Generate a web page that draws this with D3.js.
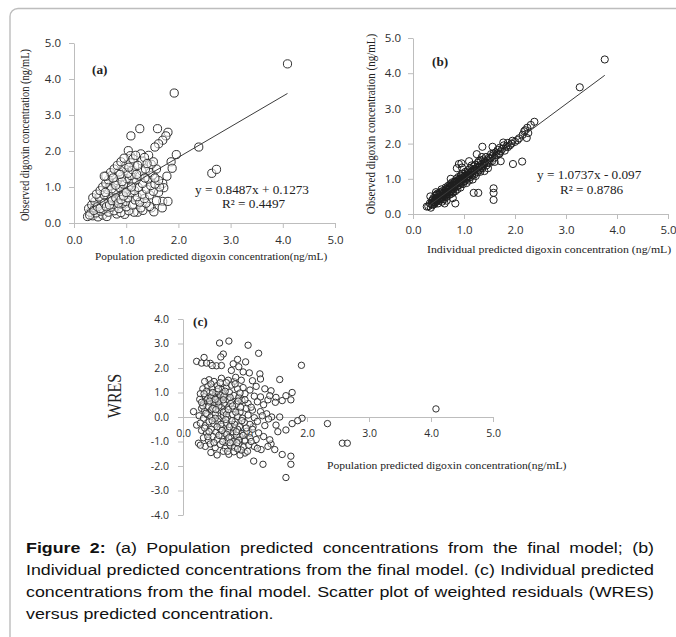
<!DOCTYPE html>
<html>
<head>
<meta charset="utf-8">
<script src="https://cdn.jsdelivr.net/npm/d3@7"></script>
<style>
    html, body { margin: 0; padding: 0; background: #fff; }
    svg { display: block; }
    .axis text { font-family: "Open Sans", sans-serif; fill: #2e2e2e; }
    .serif { font-family: "Liberation Serif", "DejaVu Serif", serif; fill: #222; white-space: pre; }
    .caption { font-family: "Liberation Sans", Arial, sans-serif; font-size: 15.5px; fill: #111; }
</style>
</head>
<body>
<div id="figure"></div>
<script>
// ---- data ----
const obsTicks = [0, 1, 2, 3, 4, 5];
const predTicks = [0, 1, 2, 3, 4, 5];
const wresTicks = [-4, -3, -2, -1, 0, 1, 2, 3, 4];

// (a) population predicted (x) vs observed (y)
const popPredObs = [
    [4.09,4.42],[1.92,3.61],[1.26,2.62],[1.60,2.62],[1.09,2.42],[1.80,2.52],[1.76,2.42],[1.70,2.30],[1.62,2.20],[1.55,2.11],
    [2.39,2.11],[1.04,2.01],[1.96,1.90],[1.28,1.92],[1.43,1.88],[1.08,1.87],[1.86,1.70],[1.88,1.52],[1.78,1.30],[1.70,1.10],
    [1.72,0.98],[2.64,1.38],[2.73,1.49],[1.70,0.60],[1.80,0.60],[1.69,0.42],[1.48,0.42],[1.53,0.31],[1.22,0.30],[1.15,0.30],
    [0.26,0.18],[0.36,0.20],[0.46,0.17],[0.55,0.22],[0.63,0.18],[0.82,0.25],[0.97,0.24],
    [0.31,0.30],[0.42,0.28],[0.51,0.33],[0.66,0.30],[0.77,0.34],[0.90,0.29],[1.05,0.34],[1.32,0.35],
    [0.28,0.40],[0.39,0.42],[0.56,0.38],[0.70,0.44],[0.86,0.40],[1.00,0.45],[1.28,0.42],[1.45,0.46],
    [0.34,0.50],[0.46,0.53],[0.60,0.48],[0.76,0.52],[0.93,0.55],[1.12,0.50],[1.38,0.55],
    [0.40,0.60],[0.52,0.62],[0.66,0.58],[0.83,0.63],[0.99,0.60],[1.17,0.64],[1.26,0.58],[1.58,0.62],
    [0.36,0.70],[0.48,0.72],[0.71,0.68],[0.87,0.74],[1.03,0.70],[1.21,0.73],[1.35,0.68],
    [0.43,0.80],[0.58,0.78],[0.75,0.83],[0.93,0.80],[1.09,0.84],[1.31,0.80],[1.45,0.78],[1.62,0.85],
    [0.50,0.90],[0.64,0.93],[0.80,0.88],[0.98,0.92],[1.16,0.90],[1.39,0.94],[1.52,0.88],
    [0.55,1.00],[0.69,1.03],[0.88,0.98],[1.05,1.02],[1.23,0.99],[1.47,1.04],[1.64,1.00],
    [0.61,1.10],[0.78,1.12],[0.95,1.08],[1.13,1.13],[1.31,1.10],[1.55,1.08],
    [0.66,1.20],[0.83,1.18],[1.01,1.23],[1.19,1.20],[1.42,1.22],[1.62,1.18],
    [0.61,1.30],[0.73,1.33],[0.91,1.28],[1.09,1.32],[1.26,1.30],[1.51,1.33],
    [0.70,1.40],[0.86,1.42],[1.03,1.38],[1.30,1.44],[1.46,1.40],
    [0.77,1.50],[0.95,1.52],[1.12,1.48],[1.37,1.50],[1.58,1.50],
    [0.83,1.60],[1.00,1.62],[1.16,1.58],[1.48,1.63],
    [0.90,1.70],[1.08,1.68],[1.30,1.72],[1.52,1.70],
    [0.96,1.80],[1.13,1.78],[1.35,1.82],
    [0.30,0.22],[0.38,0.35],[0.45,0.45],[0.50,0.40],[0.58,0.55],[0.62,0.45],[0.68,0.50],[0.73,0.62],[0.80,0.70],[0.85,0.55],
    [0.90,0.65],[0.95,0.75],[1.00,0.85],[0.72,0.95],[0.60,0.85],[0.80,1.05],[0.92,1.15],[1.10,1.00],[1.20,1.35],[1.05,1.55],
    [0.88,1.35],[0.75,1.25],[1.22,1.60],[1.40,1.65],[1.18,1.88],[0.58,1.30],[1.36,1.25],[1.55,1.25]
];

// (b) individual predicted (x) vs observed (y)
const indPredObs = [
    [3.76,4.39],[3.27,3.60],[2.38,2.62],[2.31,2.53],[2.24,2.45],[2.20,2.38],[2.26,2.30],[2.23,2.16],[2.14,1.49],[1.96,1.42],
    [1.58,0.73],[1.58,0.60],[1.58,0.40],[1.36,1.91],[1.56,1.91],[1.77,2.03],[1.93,2.00],[0.95,1.44],[0.96,1.32],[1.19,0.60],
    [1.28,0.60],[0.83,0.30],[0.27,0.21],[1.25,1.70],[1.35,1.62],[1.10,1.50],[1.86,1.90],[1.70,1.72],[2.05,2.10],[1.72,1.50],
    [1.60,1.48],
    [0.30,0.22],[0.33,0.30],[0.35,0.18],[0.37,0.38],[0.38,0.25],[0.40,0.45],[0.40,0.32],[0.34,0.50],
    [0.42,0.28],[0.43,0.40],[0.44,0.52],[0.46,0.35],[0.47,0.46],[0.48,0.58],[0.49,0.30],[0.45,0.62],[0.50,0.42],
    [0.51,0.50],[0.52,0.38],[0.53,0.62],[0.54,0.45],[0.55,0.55],[0.56,0.70],[0.57,0.35],[0.58,0.48],[0.59,0.60],[0.60,0.52],
    [0.61,0.42],[0.62,0.65],[0.63,0.55],[0.64,0.75],[0.65,0.48],[0.66,0.60],[0.67,0.70],[0.68,0.52],[0.69,0.80],[0.70,0.62],
    [0.62,0.30],[0.66,0.38],
    [0.71,0.72],[0.72,0.55],[0.73,0.85],[0.74,0.65],[0.75,0.78],[0.76,0.58],[0.77,0.90],[0.78,0.70],[0.79,0.62],[0.80,0.82],
    [0.74,1.00],[0.78,0.45],
    [0.81,0.75],[0.82,0.92],[0.83,0.65],[0.84,0.85],[0.85,1.00],[0.86,0.78],[0.87,0.70],[0.88,0.95],[0.89,1.05],[0.90,0.82],
    [0.90,1.42],[0.86,1.30],
    [0.91,0.90],[0.92,1.00],[0.93,0.75],[0.94,1.10],[0.95,0.88],[0.96,0.98],[0.97,1.15],[0.98,0.85],[0.99,1.02],[1.00,0.92],
    [1.01,1.08],[1.02,0.95],[1.03,1.20],[1.04,1.02],[1.05,0.88],[1.06,1.12],[1.07,1.00],[1.08,1.25],[1.09,1.08],[1.10,0.95],
    [1.11,1.15],[1.12,1.30],[1.13,1.05],[1.14,1.20],[1.15,1.38],[1.16,1.10],[1.17,0.98],[1.18,1.25],[1.19,1.35],[1.20,1.12],
    [1.21,1.22],[1.22,1.40],[1.23,1.08],[1.24,1.30],[1.26,1.18],[1.27,1.45],[1.28,1.32],[1.30,1.25],[1.29,1.50],
    [1.31,1.38],[1.32,1.20],[1.33,1.52],[1.35,1.42],[1.36,1.30],[1.38,1.55],[1.39,1.40],[1.40,1.22],
    [1.41,1.50],[1.43,1.62],[1.44,1.38],[1.46,1.52],[1.47,1.30],[1.49,1.60],[1.50,1.45],
    [1.52,1.58],[1.53,1.70],[1.55,1.50],[1.56,1.65],[1.58,1.72],[1.60,1.60],
    [1.62,1.75],[1.64,1.68],[1.66,1.82],[1.68,1.70],[1.70,1.88],[1.72,1.78],[1.75,1.85],[1.78,1.95],[1.80,1.80],
    [1.83,1.92],[1.86,2.02],[1.90,1.95],[1.95,2.08],[2.00,2.05],[2.08,2.15],[2.15,2.25],[2.18,2.35],
    [0.36,0.28],[0.39,0.40],[0.41,0.35],[0.44,0.45],[0.46,0.55],[0.48,0.40],[0.50,0.55],[0.52,0.45],[0.54,0.60],[0.56,0.50],
    [0.58,0.65],[0.60,0.58],[0.62,0.50],[0.64,0.62],[0.66,0.72],[0.68,0.62],[0.70,0.70],[0.72,0.78],[0.74,0.70],[0.76,0.82],
    [0.78,0.75],[0.80,0.88],[0.82,0.80],[0.84,0.92],[0.86,0.85],[0.88,0.80],[0.90,0.98],[0.92,0.92],[0.94,1.00],[0.96,1.08],
    [0.98,0.98],[1.00,1.05],[1.03,1.10],[1.06,1.05],[1.09,1.18],[1.12,1.12],[1.16,1.22],[1.20,1.28],[1.25,1.25],[1.30,1.35],
    [1.35,1.35],[1.40,1.45],[1.45,1.45],[0.43,0.33],[0.57,0.42],[0.65,0.55],[0.75,0.65]
];

// (c) population predicted (x) vs weighted residuals (y)
const popPredWres = [
    [4.08,0.33],[2.33,-0.27],[2.57,-1.07],[2.65,-1.07],[1.91,2.11],[1.92,-0.05],[1.85,-0.15],[1.66,-2.47],[1.74,-1.93],[1.74,-1.60],
    [1.60,-1.53],[1.56,1.53],[0.59,3.02],[0.74,3.10],[1.05,2.93],[1.22,2.60],[0.22,2.27],[0.34,2.43],[0.44,2.19],[0.54,2.09],
    [0.65,2.57],[0.61,2.45],[0.81,2.17],[0.90,2.05],[1.01,2.25],[1.07,1.80],[1.24,1.76],[1.42,1.07],[1.50,0.80],[1.60,0.67],
    [1.66,0.87],[1.76,1.00],[1.74,0.70],[1.14,-1.80],[1.29,-1.93],[1.00,-1.47],[1.42,-1.10],[1.48,-1.33],[0.17,0.22],[0.22,-0.33],
    [0.25,-1.07],[0.30,2.20],[0.38,2.20],
    [0.97,1.84],[0.94,1.50],[0.82,1.45],[1.37,0.70],[1.40,0.87],[1.49,0.60],[1.50,-0.33],[1.53,-0.60],[1.66,-0.53],[1.76,-0.27],
    [1.56,0.00],[1.43,0.00],[1.35,0.13],[1.40,-0.93],[1.37,-1.20],[1.26,-1.33],[1.15,-1.20],[1.00,-0.93],[1.13,-0.40],
    [0.42,1.52],[0.50,1.45],[0.62,1.58],[0.73,1.50],[0.85,1.62],[1.12,1.48],[1.25,1.55],
    [0.32,1.15],[0.40,1.25],[0.47,1.18],[0.55,1.28],[0.63,1.12],[0.70,1.22],[0.78,1.30],[0.88,1.15],[0.97,1.20],[1.08,1.10],
    [1.18,1.25],[1.32,1.15],
    [0.28,0.95],[0.36,0.85],[0.43,0.98],[0.48,0.82],[0.53,0.92],[0.58,0.80],[0.64,0.95],[0.69,0.85],[0.75,1.00],[0.82,0.88],
    [0.90,0.80],[1.00,0.95],[1.15,0.85],[1.25,0.82],
    [0.27,0.72],[0.33,0.55],[0.38,0.68],[0.44,0.58],[0.49,0.70],[0.54,0.52],[0.60,0.65],[0.66,0.55],[0.72,0.72],[0.79,0.60],
    [0.86,0.52],[0.95,0.68],[1.05,0.55],[1.20,0.62],[1.30,0.50],
    [0.30,0.35],[0.35,0.25],[0.41,0.42],[0.46,0.30],[0.51,0.40],[0.57,0.28],[0.62,0.38],[0.68,0.25],[0.74,0.42],[0.81,0.32],
    [0.92,0.20],[1.02,0.35],[1.12,0.28],[1.25,0.22],
    [0.26,0.05],[0.33,-0.05],[0.39,0.10],[0.45,0.00],[0.52,0.12],[0.58,-0.08],[0.65,0.05],[0.72,-0.02],[0.80,0.10],[0.88,0.02],
    [0.96,-0.05],[1.05,0.08],[1.15,-0.03],[1.28,0.05],[1.38,-0.08],
    [0.28,-0.25],[0.36,-0.35],[0.42,-0.20],[0.50,-0.30],[0.56,-0.18],[0.63,-0.38],[0.70,-0.25],[0.77,-0.32],[0.84,-0.20],[0.91,-0.40],
    [0.99,-0.22],[1.08,-0.30],[1.20,-0.18],[1.32,-0.35],
    [0.30,-0.55],[0.38,-0.65],[0.46,-0.50],[0.53,-0.62],[0.60,-0.48],[0.67,-0.68],[0.74,-0.55],[0.81,-0.62],[0.88,-0.50],[0.95,-0.68],
    [1.03,-0.58],[1.12,-0.50],[1.22,-0.65],
    [0.33,-0.85],[0.41,-0.95],[0.48,-0.80],[0.55,-0.92],[0.63,-0.78],[0.71,-0.98],[0.78,-0.85],[0.85,-0.92],[0.92,-0.80],[1.00,-0.98],
    [1.08,-0.85],[1.18,-0.92],[1.30,-0.80],
    [0.36,-1.20],[0.44,-1.10],[0.52,-1.25],[0.60,-1.12],[0.68,-1.28],[0.76,-1.15],[0.83,-1.25],[0.90,-1.10],[0.98,-1.22],[1.06,-1.15],
    [1.20,-1.28],
    [0.45,-1.45],[0.55,-1.55],[0.65,-1.40],[0.74,-1.52],[0.82,-1.42],[0.92,-1.55],[1.04,-1.40],
    [0.40,0.75],[0.45,0.80],[0.50,0.60],[0.55,0.75],[0.60,0.90],[0.48,0.35],[0.58,0.45],[0.52,-0.05],[0.82,-0.45],[0.86,-0.75],
    [0.80,-1.00],[0.90,-0.95],[0.75,-0.40],[0.70,-0.70],[0.95,-0.15],[0.85,0.20],[0.65,0.20],[0.55,1.05],[0.70,1.40],[0.35,1.45],
    [0.28,-1.15],[0.62,2.10],[0.78,1.90],[0.88,2.35],[0.47,2.10],
    [0.32,0.45],[0.37,0.15],[0.43,0.65],[0.47,-0.15],[0.53,0.30],[0.57,0.62],[0.61,-0.30],[0.66,0.85],[0.70,0.10],[0.74,-0.85],
    [0.77,0.55],[0.83,-0.30],[0.87,-1.05],[0.93,0.40],[0.97,-0.75],[0.35,-0.45],[0.40,-0.80],[0.50,-1.05],[0.58,-0.75],[0.64,-1.00],
    [0.72,-1.40],[0.79,-0.15],[0.86,-0.60],[0.94,-1.35],[1.02,-0.45],[0.38,1.05],[0.45,1.35],[0.52,0.72],[0.60,1.40],[0.68,1.05],
    [0.76,0.80],[0.84,1.35],[0.92,0.98],[0.42,-0.60],[0.55,-0.40],[0.63,-0.55],[0.69,-0.10],[0.76,-1.05],[0.88,-1.30],[1.10,-1.00],
    [0.30,0.60],[0.34,0.95],[0.48,1.00],[0.57,1.15],[0.65,0.70],[0.73,0.30],[0.80,0.45],[0.89,0.65],[1.00,0.70],[1.10,0.40]
];

// fitted lines: slope, intercept, x range of the drawn segment
const trendA = { slope: 0.8487, intercept: 0.1273, x0: 0.25, x1: 4.09 };
const trendB = { slope: 1.0737, intercept: -0.097, x0: 0.27, x1: 3.76 };

const eqA = ["y = 0.8487x  + 0.1273", "R\u00b2 = 0.4497"];
const eqB = ["y = 1.0737x  - 0.097", "R\u00b2 = 0.8786"];

const obsTitle = "Observed digoxin concentration (ng/mL)";
const popTitleA = "Population  predicted digoxin concentration(ng/mL)";
const indTitle = "Individual predicted digoxin concentration (ng/mL)";
const popTitleC = "Population predicted digoxin concentration(ng/mL)";
const wresTitle = "WRES";

const captionLines = [
    ["Figure", "2:", "(a)", "Population", "predicted", "concentrations", "from", "the", "final", "model;", "(b)"],
    ["Individual", "predicted", "concentrations", "from", "the", "final", "model.", "(c)", "Individual", "predicted"],
    ["concentrations", "from", "the", "final", "model.", "Scatter", "plot", "of", "weighted", "residuals", "(WRES)"],
    ["versus", "predicted", "concentration."]
];

// ---- drawing ----
const W = 676, H = 637;
const SX = 1.15; // the scanned figure is a bit wider than it is tall

const svg = d3.select("#figure").append("svg")
    .attr("width", W)
    .attr("height", H);

// rounded frame round the figure
svg.append("path")
    .attr("d", `M${W},8.5 H18 A8,8 0 0 0 10,16.5 V${H + 2}`)
    .attr("fill", "none")
    .attr("stroke", "#bdbdbd")
    .attr("stroke-width", 1.4);

function stretchText(parent, x, y, str, rotate) {
    return parent.append("text")
        .attr("transform", `translate(${x},${y}) scale(${SX},1)` + (rotate ? " rotate(-90)" : ""))
        .text(str);
}

class ScatterPanel {
    constructor(parent, cfg) {
        this.parent = parent;
        this.cfg = cfg;
        this.initVis();
    }

    initVis() {
        const vis = this;
        const c = vis.cfg;
        vis.g = vis.parent.append("g");

        vis.x = d3.scaleLinear().domain([0, 5]).range([c.left, c.right]);
        vis.y = d3.scaleLinear().domain(c.yDomain).range([c.bottom, c.top]);

        vis.addAxes();
        vis.addPoints();
        if (c.trend) vis.addTrend();
        vis.addLabels();
    }

    styleAxis(sel, size) {
        sel.select(".domain").attr("stroke", "#bdbdbd");
        sel.selectAll(".tick line").attr("stroke", "#bdbdbd");
        sel.selectAll(".tick text").style("font-size", size + "px");
    }

    addAxes() {
        const vis = this;
        const c = vis.cfg;
        const fmt = d => d.toFixed(1);

        const yAxis = vis.g.append("g")
            .attr("class", "axis")
            .attr("transform", `translate(${c.left},0)`)
            .call(d3.axisLeft(vis.y).tickValues(c.yTicks).tickSize(5).tickSizeOuter(0)
                .tickPadding(c.yPad).tickFormat(fmt));
        vis.styleAxis(yAxis, c.tickFont);

        const xAxis = vis.g.append("g")
            .attr("class", "axis")
            .attr("transform", `translate(0,${vis.y(0)})`)
            .call(d3.axisBottom(vis.x).tickValues(c.xTicks).tickSize(5).tickSizeOuter(0)
                .tickPadding(c.xPad).tickFormat(fmt));
        vis.styleAxis(xAxis, c.tickFont);
    }

    addPoints() {
        const vis = this;
        const c = vis.cfg;
        vis.g.append("g")
            .selectAll("circle")
            .data(c.points)
            .join("circle")
            .attr("cx", d => vis.x(d[0]))
            .attr("cy", d => vis.y(d[1]))
            .attr("r", c.r)
            .attr("fill", "#fff")
            .attr("fill-opacity", c.fillOpacity)
            .attr("stroke", c.stroke)
            .attr("stroke-width", 1);
    }

    addTrend() {
        const vis = this;
        const t = vis.cfg.trend;
        vis.g.append("line")
            .attr("x1", vis.x(t.x0))
            .attr("y1", vis.y(t.slope * t.x0 + t.intercept))
            .attr("x2", vis.x(t.x1))
            .attr("y2", vis.y(t.slope * t.x1 + t.intercept))
            .attr("stroke", "#3c3c3c")
            .attr("stroke-width", 1);
    }

    addLabels() {
        const vis = this;
        const c = vis.cfg;
        const lab = vis.g.append("g").attr("class", "serif");

        stretchText(lab, c.tag.x, c.tag.y, c.tag.text)
            .style("font-size", "11.5px")
            .style("font-weight", "bold");

        stretchText(lab, c.xTitle.x, c.xTitle.y, c.xTitle.text)
            .style("font-size", c.xTitle.size + "px");

        stretchText(lab, c.yTitle.x, c.yTitle.y, c.yTitle.text, true)
            .style("font-size", c.yTitle.size + "px")
            .style("text-anchor", "middle");

        if (c.eq) {
            c.eq.lines.forEach((s, i) => {
                stretchText(lab, c.eq.x[i], c.eq.y[i], s).style("font-size", "11.5px");
            });
        }
    }
}

new ScatterPanel(svg, {
    left: 74, right: 335, bottom: 223, top: 43,
    yDomain: [0, 5], yTicks: obsTicks, xTicks: predTicks,
    yPad: 8, xPad: 8, tickFont: 11.5,
    points: popPredObs, r: 4.1, fillOpacity: 0.55, stroke: "#333",
    trend: trendA,
    tag: { text: "(a)", x: 92, y: 74 },
    xTitle: { text: popTitleA, x: 95, y: 260, size: 9.8 },
    yTitle: { text: obsTitle, x: 28.5, y: 135, size: 10.5 },
    eq: { lines: eqA, x: [195, 222], y: [194, 208] }
});

new ScatterPanel(svg, {
    left: 413, right: 668, bottom: 214, top: 38,
    yDomain: [0, 5], yTicks: obsTicks, xTicks: predTicks,
    yPad: 7, xPad: 7, tickFont: 11.5,
    points: indPredObs, r: 3.6, fillOpacity: 0, stroke: "#1e1e1e",
    trend: trendB,
    tag: { text: "(b)", x: 432, y: 66 },
    xTitle: { text: indTitle, x: 427, y: 253, size: 10.3 },
    yTitle: { text: obsTitle, x: 374.5, y: 124, size: 11 },
    eq: { lines: eqB, x: [537, 560], y: [179, 194] }
});

new ScatterPanel(svg, {
    left: 183, right: 493, bottom: 515, top: 319,
    yDomain: [-4, 4], yTicks: wresTicks, xTicks: predTicks,
    yPad: 9, xPad: 8, tickFont: 10.5,
    points: popPredWres, r: 3.2, fillOpacity: 0.5, stroke: "#333",
    trend: null,
    tag: { text: "(c)", x: 193, y: 326 },
    xTitle: { text: popTitleC, x: 327, y: 469, size: 10.1 },
    yTitle: { text: wresTitle, x: 120.5, y: 396, size: 16 }
});

// caption, justified between two margins
const capLeft = 26, capRight = 654;
const capBase = [553, 575, 597, 619];
const capFont = 15.5;
const cap = svg.append("g").attr("class", "caption");

captionLines.forEach((words, li) => {
    const nodes = words.map((w, wi) => {
        const t = stretchText(cap, 0, capBase[li], w);
        if (li === 0 && wi < 2) t.style("font-weight", "bold");
        return t;
    });
    const widths = nodes.map(t => t.node().getComputedTextLength() * SX);
    const total = d3.sum(widths);
    const last = li === captionLines.length - 1;
    const gap = last ? 0.278 * capFont * SX : (capRight - capLeft - total) / (words.length - 1);
    let x = capLeft;
    nodes.forEach((t, i) => {
        t.attr("transform", `translate(${x},${capBase[li]}) scale(${SX},1)`);
        x += widths[i] + gap;
    });
});
</script>
</body>
</html>
